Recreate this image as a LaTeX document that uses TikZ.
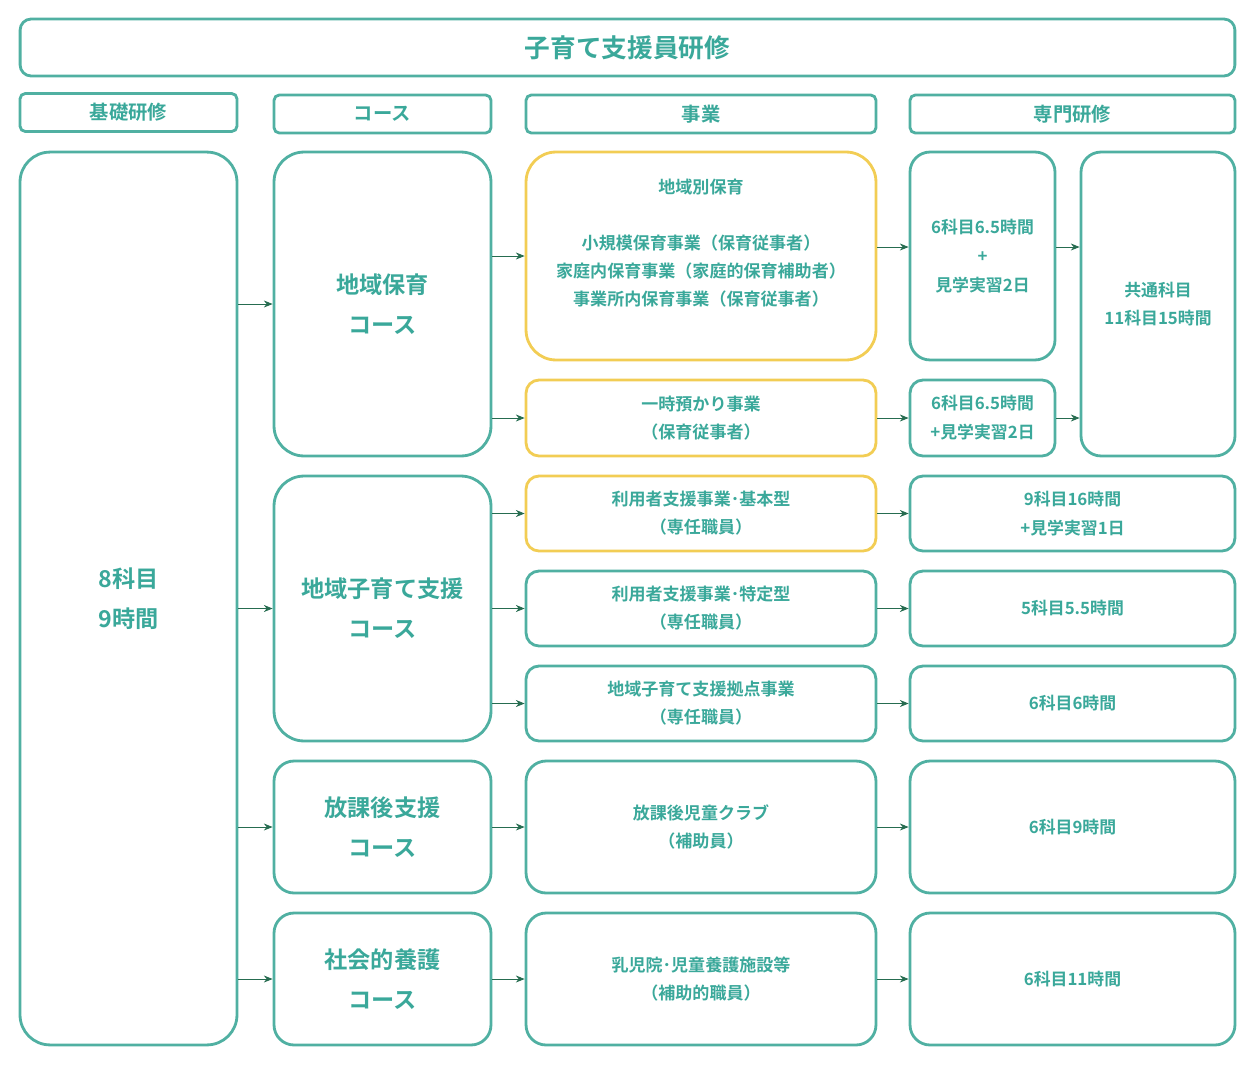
\documentclass[tikz,border=0pt]{standalone}
\usepackage{fontspec}
\setmainfont{Noto Sans CJK JP Bold}
\usetikzlibrary{arrows.meta}

\definecolor{tealline}{RGB}{80,176,162}
\definecolor{tealtext}{RGB}{58,168,154}
\definecolor{yellowline}{RGB}{242,205,84}
\definecolor{arrowgreen}{RGB}{38,108,80}

\tikzset{
  box/.style={draw=tealline, line width=1.6pt, text=tealtext, align=center, inner sep=0pt},
  headbox/.style={box, rounded corners=3pt, minimum height=0.76cm, font=\fontsize{11}{13}\selectfont},
  bigbox/.style={box, rounded corners=0.6cm, font=\fontsize{13.2}{22.6}\selectfont},
  bizbox/.style={box, rounded corners=0.26cm, minimum width=7.0cm, font=\fontsize{9.7}{15.9}\selectfont},
  specbox/.style={box, rounded corners=0.26cm, font=\fontsize{9.6}{16.4}\selectfont},
  flow/.style={-{Stealth[length=5pt,width=4pt]}, arrowgreen, line width=0.5pt}
}

\begin{document}
\begin{tikzpicture}[x=0.02cm, y=-0.02cm]
      \useasboundingbox (0,0) rectangle (1255,1065);

      % Title and column heads
      \node[box, rounded corners=0.22cm, minimum width=24.3cm, minimum height=1.14cm, font=\fontsize{14.6}{17}\selectfont] (title) at (627.5,47.5) {子育て支援員研修};
      \node[headbox, minimum width=4.34cm] (hbasic) at (128.5,112.5) {基礎研修};
      \node[headbox, minimum width=4.34cm] (hcourse) at (382.5,114) {コース};
      \node[headbox, minimum width=7.0cm] (hbiz) at (701,114) {事業};
      \node[headbox, minimum width=6.5cm] (hspec) at (1072.5,114) {専門研修};

      % Basic training
      \node[bigbox, minimum width=4.34cm, minimum height=17.86cm] (basic) at (128.5,598.5) {8科目\\9時間};

      % Courses
      \node[bigbox, minimum width=4.34cm, minimum height=6.08cm] (hoiku) at (382.5,304) {地域保育\\コース};
      \node[bigbox, minimum width=4.34cm, minimum height=5.3cm] (kosodate) at (382.5,608.5) {地域子育て支援\\コース};
      \node[bigbox, minimum width=4.34cm, minimum height=2.64cm, rounded corners=0.4cm] (houkago) at (382.5,827) {放課後支援\\コース};
      \node[bigbox, minimum width=4.34cm, minimum height=2.64cm, rounded corners=0.4cm] (shakai) at (382.5,979) {社会的養護\\コース};

      % Businesses
      \node[bizbox, draw=yellowline, minimum height=4.16cm, rounded corners=0.6cm] (chiiki) at (701,256) {地域別保育\\ \mbox{}\\小規模保育事業（保育従事者）\\家庭内保育事業（家庭的保育補助者）\\事業所内保育事業（保育従事者）\\ \mbox{}};
      \node[bizbox, draw=yellowline, minimum height=1.52cm] (ichiji) at (701,418) {一時預かり事業\\（保育従事者）};
      \node[bizbox, draw=yellowline, minimum height=1.5cm] (kihon) at (701,513.5) {利用者支援事業･基本型\\（専任職員）};
      \node[bizbox, minimum height=1.5cm] (tokutei) at (701,608.5) {利用者支援事業･特定型\\（専任職員）};
      \node[bizbox, minimum height=1.5cm] (kyoten) at (701,703.5) {地域子育て支援拠点事業\\（専任職員）};
      \node[bizbox, minimum height=2.64cm, rounded corners=0.4cm] (club) at (701,827) {放課後児童クラブ\\（補助員）};
      \node[bizbox, minimum height=2.64cm, rounded corners=0.4cm] (nyuji) at (701,979) {乳児院･児童養護施設等\\（補助的職員）};

      % Specialised training
      \node[specbox, minimum width=2.9cm, minimum height=4.16cm, rounded corners=0.4cm] (spec1) at (982.5,256) {6科目6.5時間\\+\\見学実習2日};
      \node[specbox, minimum width=2.9cm, minimum height=1.52cm] (spec2) at (982.5,418) {6科目6.5時間\\+見学実習2日};
      \node[specbox, minimum width=3.08cm, minimum height=6.08cm, rounded corners=0.4cm] (common) at (1158,304) {共通科目\\11科目15時間};
      \node[specbox, minimum width=6.5cm, minimum height=1.5cm] (spec3) at (1072.5,513.5) {9科目16時間\\+見学実習1日};
      \node[specbox, minimum width=6.5cm, minimum height=1.5cm] (spec4) at (1072.5,608.5) {5科目5.5時間};
      \node[specbox, minimum width=6.5cm, minimum height=1.5cm] (spec5) at (1072.5,703.5) {6科目6時間};
      \node[specbox, minimum width=6.5cm, minimum height=2.64cm, rounded corners=0.4cm] (spec6) at (1072.5,827) {6科目9時間};
      \node[specbox, minimum width=6.5cm, minimum height=2.64cm, rounded corners=0.4cm] (spec7) at (1072.5,979) {6科目11時間};

      % Basic training to courses
      \foreach \c in {hoiku, kosodate, houkago, shakai}
        \draw[flow] (basic.east |- \c.west) -- (\c.west);

      % Courses to businesses
      \foreach \c/\b in {hoiku/chiiki, hoiku/ichiji, kosodate/kihon, kosodate/tokutei, kosodate/kyoten, houkago/club, shakai/nyuji}
        \draw[flow] (\c.east |- \b.west) -- (\b.west);

      % Businesses to specialised training
      \draw[flow] ([yshift=0.18cm]chiiki.east) -- ([yshift=0.18cm]spec1.west);
      \foreach \b/\s in {ichiji/spec2, kihon/spec3, tokutei/spec4, kyoten/spec5, club/spec6, nyuji/spec7}
        \draw[flow] (\b.east) -- (\s.west);

      % On to the common subjects
      \draw[flow] ([yshift=0.18cm]spec1.east) -- ([yshift=0.18cm]spec1.east -| common.west);
      \draw[flow] (spec2.east) -- (spec2.east -| common.west);

      \end{tikzpicture}
\end{document}
